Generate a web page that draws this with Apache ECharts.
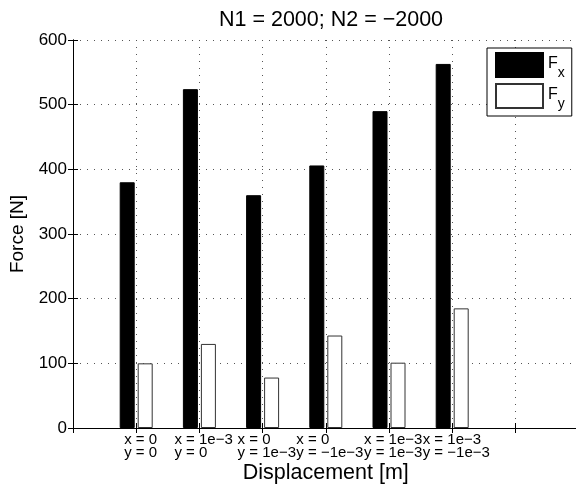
<!DOCTYPE html>
<html>
<head>
<meta charset="utf-8">
<script src="https://cdn.jsdelivr.net/npm/echarts@6/dist/echarts.min.js"></script>
<style>
  html, body { margin: 0; padding: 0; background: #fff; }
  #chart { width: 576px; height: 486px; }
</style>
</head>
<body>
<div id="chart"></div>
<script>
// Grouped bar chart: force components for each displacement case
const categories = [
  'x = 0\ny = 0',
  'x = 1e\u22123\ny = 0',
  'x = 0\ny = 1e\u22123',
  'x = 0\ny = \u22121e\u22123',
  'x = 1e\u22123\ny = 1e\u22123',
  'x = 1e\u22123\ny = \u22121e\u22123'
];
const seriesNames = ['Fx', 'Fy'];
const fxValues = [380, 524, 360, 406, 490, 563];
const fyValues = [100, 130, 78, 143, 101, 185];
const yTickValues = [0, 100, 200, 300, 400, 500, 600];

const FONT = '"Liberation Sans", Arial, Helvetica, sans-serif';
const tickFontSize = 15;

// measure each label block so both lines can be left-aligned inside it
const ctx = document.createElement('canvas').getContext('2d');
ctx.font = tickFontSize + 'px ' + FONT;
const rich = {};
categories.forEach((c, i) => {
  const w = Math.max(...c.split('\n').map(s => ctx.measureText(s).width));
  rich['c' + (i + 1)] = {
    width: Math.ceil(w), align: 'left', fontSize: tickFontSize,
    lineHeight: 12.5, fontFamily: FONT, color: '#000', padding: [0, 0, 0, 9]
  };
});

const xPos = (arr) => arr.map((v, i) => [i + 1, v]);
const gridLine = { show: true, lineStyle: { color: '#555', width: 1, type: [1, 6] } };

const chart = echarts.init(document.getElementById('chart'), null, { renderer: 'canvas' });
chart.setOption({
  animation: false,
  backgroundColor: '#fff',
  textStyle: { fontFamily: FONT },
  title: {
    text: 'N1 = 2000; N2 = \u22122000',
    left: 326, top: 4, textAlign: 'center',
    textStyle: { fontSize: 21.5, fontWeight: 'normal', color: '#000', fontFamily: FONT }
  },
  grid: { left: 73, top: 40, width: 505.6, height: 388, containLabel: false, outerBoundsMode: 'none' },
  legend: {
    data: seriesNames,
    orient: 'vertical',
    left: 487, top: 48,
    padding: [4, 7, 5, 8],
    itemWidth: 47, itemHeight: 24, itemGap: 3,
    borderColor: '#000', borderWidth: 1, backgroundColor: '#fff',
    icon: 'rect',
    formatter: (name) => '{m|F}{s|' + name.slice(1) + '}',
    textStyle: {
      rich: {
        m: { fontSize: 16, fontFamily: FONT, color: '#000', verticalAlign: 'top', padding: [6, 0, 0, 0] },
        s: { fontSize: 14, fontFamily: FONT, color: '#000', verticalAlign: 'top', padding: [16, 0, 0, 0] }
      }
    }
  },
  xAxis: [
    {
      type: 'value', min: 0, max: 8, interval: 1,
      name: 'Displacement [m]', nameLocation: 'middle', nameGap: 34, nameMoveOverlap: false,
      nameTextStyle: { fontSize: 21.5, color: '#000', fontFamily: FONT },
      axisLine: { show: true, lineStyle: { color: '#000', width: 1 } },
      axisTick: { show: true, inside: true, length: 5, lineStyle: { color: '#000' } },
      axisLabel: {
        margin: 6,
        formatter: (v) => {
          if (Number.isInteger(v) && v >= 1 && v <= categories.length) {
            const [a, b] = categories[v - 1].split('\n');
            return '{c' + v + '|' + a + '}\n{c' + v + '|' + b + '}';
          }
          return '';
        },
        rich: rich
      },
      splitLine: gridLine
    },
    {
      type: 'value', min: 0, max: 8, interval: 1, position: 'top',
      axisLine: { show: true, lineStyle: { color: '#000', width: 1 } },
      axisTick: { show: true, inside: true, length: 5, lineStyle: { color: '#000' } },
      axisLabel: { show: false },
      splitLine: { show: false }
    }
  ],
  yAxis: [
    {
      type: 'value', min: yTickValues[0], max: yTickValues[yTickValues.length - 1], interval: 100,
      name: 'Force [N]', nameLocation: 'middle', nameGap: 46, nameRotate: 90, nameMoveOverlap: false,
      nameTextStyle: { fontSize: 19, color: '#000', fontFamily: FONT },
      axisLine: { show: true, lineStyle: { color: '#000', width: 1 } },
      axisTick: { show: true, inside: true, length: 5, lineStyle: { color: '#000' } },
      axisLabel: { margin: 6, fontSize: 17, color: '#000', fontFamily: FONT },
      splitLine: gridLine
    },
    {
      type: 'value', min: 0, max: 600, interval: 100, position: 'right',
      axisLine: { show: true, lineStyle: { color: '#000', width: 1 } },
      axisTick: { show: true, inside: true, length: 5, lineStyle: { color: '#000' } },
      axisLabel: { show: false },
      splitLine: { show: false }
    }
  ],
  series: [
    {
      name: seriesNames[0], type: 'bar', xAxisIndex: 0, yAxisIndex: 0,
      data: xPos(fxValues), barWidth: 15, barGap: '20%',
      itemStyle: { color: '#000', borderColor: '#000', borderWidth: 1 }
    },
    {
      name: seriesNames[1], type: 'bar', xAxisIndex: 0, yAxisIndex: 0,
      data: xPos(fyValues), barWidth: 15, barGap: '20%',
      itemStyle: { color: '#fff', borderColor: '#333', borderWidth: 1 }
    }
  ]
});
</script>
</body>
</html>
